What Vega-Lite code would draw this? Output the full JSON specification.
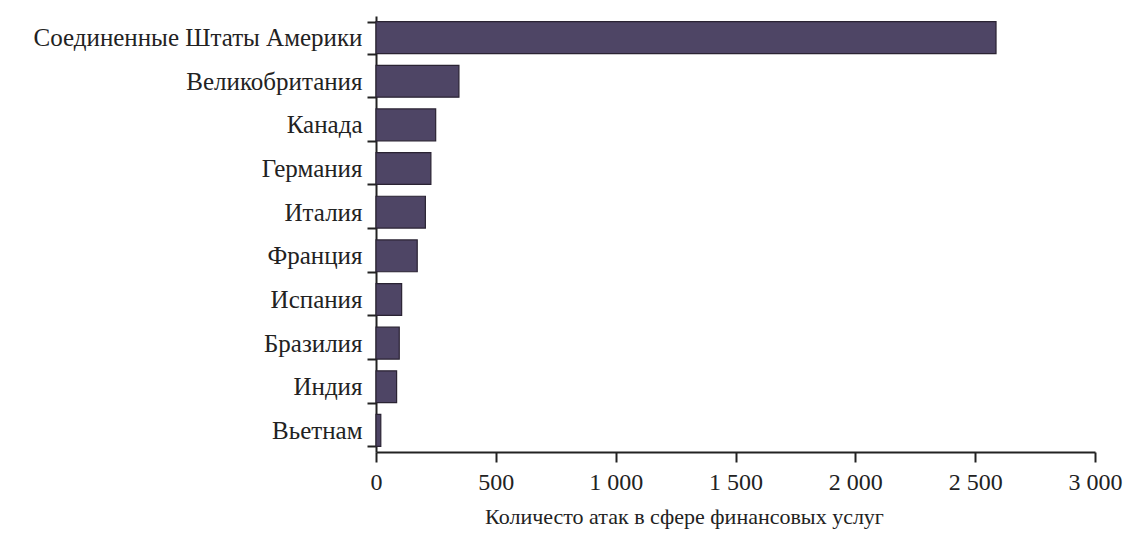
{
  "$schema": "https://vega.github.io/schema/vega-lite/v6.json",
  "autosize": "none",
  "width": 719,
  "height": 436,
  "padding": {"left": 376, "top": 16, "right": 32, "bottom": 84},
  "background": "white",
  "config": {"view": {"stroke": null}, "font": "Liberation Serif"},
  "data": {"values": [
    {"country": "Соединенные Штаты Америки", "attacks": 2587},
    {"country": "Великобритания", "attacks": 346},
    {"country": "Канада", "attacks": 249},
    {"country": "Германия", "attacks": 229},
    {"country": "Италия", "attacks": 206},
    {"country": "Франция", "attacks": 172},
    {"country": "Испания", "attacks": 107},
    {"country": "Бразилия", "attacks": 97},
    {"country": "Индия", "attacks": 86},
    {"country": "Вьетнам", "attacks": 20}
  ]},
  "mark": {"type": "bar", "color": "#4e4565", "stroke": "#2a2333", "strokeWidth": 1.2},
  "encoding": {
    "y": {
      "field": "country", "type": "nominal", "sort": null,
      "scale": {"paddingInner": 0.27, "paddingOuter": 0.13},
      "axis": {
        "title": null, "tickBand": "extent", "tickSize": 9, "tickWidth": 2, "tickColor": "#222",
        "domainColor": "#222", "domainWidth": 2, "labelFont": "Liberation Serif",
        "labelFontSize": 25, "labelColor": "#222", "labelPadding": 5, "labelLimit": 0
      }
    },
    "x": {
      "field": "attacks", "type": "quantitative",
      "scale": {"domain": [0, 3000], "nice": false},
      "axis": {
        "title": "Количесто атак в сфере финансовых услуг", "values": [0, 500, 1000, 1500, 2000, 2500, 3000],
        "format": ",d", "grid": false, "tickSize": 10, "tickWidth": 2, "tickColor": "#222",
        "domainColor": "#222", "domainWidth": 2, "labelFont": "Liberation Serif",
        "labelFontSize": 24, "labelColor": "#222", "labelPadding": 8, "labelBaseline": "top",
        "labelFlush": false, "labelOverlap": false,
        "titleFont": "Liberation Serif", "titleFontSize": 22, "titleFontWeight": "normal",
        "titleColor": "#222", "titlePadding": 12, "titleX": 308,
        "labelExpr": "replace(datum.label, ',', ' ')"
      }
    }
  }
}
